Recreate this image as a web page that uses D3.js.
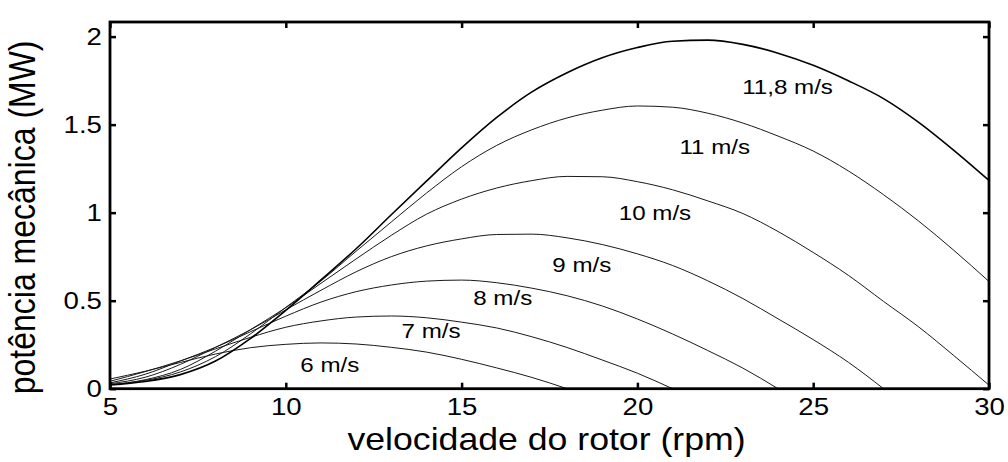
<!DOCTYPE html>
<html>
<head>
<meta charset="utf-8">
<script src="https://cdn.jsdelivr.net/npm/d3@7/dist/d3.min.js"></script>
<style>
  html, body { margin: 0; padding: 0; background: #fff; }
  svg { display: block; font-family: "Liberation Sans", Arial, sans-serif; }
</style>
</head>
<body>
<svg id="chart" width="1008" height="462"></svg>
<script>
// Rotor speed samples (rpm)
const rotorSpeed = [5, 6, 7, 8, 9, 10, 11, 12, 13, 14, 15, 16, 17, 18, 19, 20,
                    21, 22, 23, 24, 25, 26, 27, 28, 29, 30];

// Mechanical power (MW) for each wind speed, sampled at rotorSpeed
const power6 = [0.055, 0.099, 0.149, 0.197, 0.233, 0.252, 0.260, 0.254, 0.235,
                0.208, 0.167, 0.118, 0.064, 0.0];
const power7 = [0.042, 0.097, 0.158, 0.226, 0.292, 0.349, 0.385, 0.407, 0.413,
                0.403, 0.378, 0.345, 0.295, 0.234, 0.163, 0.088, 0.0];
const power8 = [0.033, 0.082, 0.157, 0.235, 0.324, 0.412, 0.492, 0.551, 0.589,
                0.611, 0.617, 0.602, 0.571, 0.528, 0.470, 0.396, 0.311, 0.217,
                0.117, 0.0];
const power9 = [0.028, 0.065, 0.138, 0.235, 0.335, 0.448, 0.559, 0.664, 0.750,
                0.811, 0.851, 0.876, 0.878, 0.857, 0.819, 0.766, 0.700, 0.613,
                0.512, 0.397, 0.279, 0.150, 0.0];
const power10 = [0.023, 0.051, 0.109, 0.213, 0.336, 0.460, 0.599, 0.737, 0.871,
                 0.991, 1.077, 1.140, 1.182, 1.206, 1.204, 1.176, 1.130, 1.067,
                 0.995, 0.893, 0.774, 0.644, 0.496, 0.351, 0.188, 0.02];
const power11 = [0.023, 0.047, 0.095, 0.182, 0.312, 0.462, 0.612, 0.781, 0.947,
                 1.111, 1.261, 1.382, 1.471, 1.538, 1.582, 1.606, 1.599, 1.565,
                 1.509, 1.435, 1.350, 1.237, 1.102, 0.952, 0.786, 0.609];
const power118 = [0.021, 0.041, 0.080, 0.157, 0.286, 0.445, 0.618, 0.795, 0.988,
                  1.179, 1.368, 1.541, 1.686, 1.795, 1.880, 1.938, 1.974, 1.980,
                  1.956, 1.906, 1.837, 1.749, 1.648, 1.513, 1.354, 1.183];

const windLabels = ["6 m/s", "7 m/s", "8 m/s", "9 m/s", "10 m/s", "11 m/s", "11,8 m/s"];
const seriesValues = [power6, power7, power8, power9, power10, power11, power118];

// Axis ticks
const xTicks = [5, 10, 15, 20, 25, 30];
const yTicks = [0, 0.5, 1, 1.5, 2];
const yTickLabels = ["0", "0.5", "1", "1.5", "2"];

// Where each curve's label sits, in data units [rpm, MW]
const labelAnchor = [[11.25, 0.135], [14.13, 0.328], [16.17, 0.515], [18.42, 0.703],
                     [20.5, 0.998], [22.2, 1.373], [24.27, 1.714]];

const svg = d3.select("#chart");
const plot = { left: 110, right: 989, top: 22, bottom: 388.7 };
const textStretch = 1.15;   // glyphs are drawn a little wider than tall

const x = d3.scaleLinear().domain([5, 30]).range([plot.left, plot.right]);
const y = d3.scaleLinear().domain([0, 2.083]).range([plot.bottom, plot.top]);

// Curves
const line = d3.line()
  .x(d => x(d[0]))
  .y(d => y(d[1]))
  .curve(d3.curveMonotoneX);

const g = svg.append("g");
seriesValues.forEach((vals, i) => {
  const pts = vals.map((v, k) => [rotorSpeed[k], v]);
  const top = i === seriesValues.length - 1;
  g.append("path")
    .datum(pts)
    .attr("fill", "none")
    .attr("stroke", top ? "#000" : "#1a1a1a")
    .attr("stroke-width", top ? 1.6 : 1.0)
    .attr("d", line);
});

// Curve labels
windLabels.forEach((t, i) => {
  svg.append("text")
    .attr("transform", `translate(${x(labelAnchor[i][0])},${y(labelAnchor[i][1])}) scale(${textStretch},1)`)
    .attr("text-anchor", "middle")
    .attr("dominant-baseline", "central")
    .attr("font-size", 21)
    .attr("fill", "#000")
    .text(t);
});

// Axes with inward ticks on all sides
const tickLen = 6;
const axisG = svg.append("g");
axisG.append("g")
  .attr("transform", `translate(0,${plot.bottom})`)
  .call(d3.axisBottom(x).tickValues(xTicks).tickSizeInner(-tickLen).tickSizeOuter(0).tickPadding(9).tickFormat(d3.format("d")));
axisG.append("g")
  .attr("transform", `translate(0,${plot.top})`)
  .call(d3.axisTop(x).tickValues(xTicks).tickSizeInner(-tickLen).tickSizeOuter(0).tickFormat(""));
axisG.append("g")
  .attr("transform", `translate(${plot.left},0)`)
  .call(d3.axisLeft(y).tickValues(yTicks).tickSizeInner(-tickLen).tickSizeOuter(0).tickPadding(7)
    .tickFormat((d, i) => yTickLabels[i]));
axisG.append("g")
  .attr("transform", `translate(${plot.right},0)`)
  .call(d3.axisRight(y).tickValues(yTicks).tickSizeInner(-tickLen).tickSizeOuter(0).tickFormat(""));

axisG.selectAll(".domain").remove();
axisG.selectAll(".tick line").attr("stroke", "#000").attr("stroke-width", 2.5);
axisG.selectAll(".tick text")
  .attr("font-size", 24)
  .attr("font-family", "'Liberation Sans', Arial, sans-serif")
  .attr("fill", "#000")
  .attr("transform", `scale(${textStretch},1)`);

// Frame
svg.append("rect")
  .attr("x", plot.left).attr("y", plot.top)
  .attr("width", plot.right - plot.left).attr("height", plot.bottom - plot.top)
  .attr("fill", "none").attr("stroke", "#000").attr("stroke-width", 2.8);

// Axis titles
svg.append("text")
  .attr("transform", `translate(${(plot.left + plot.right) / 2 - 3},450) scale(${textStretch},1)`)
  .attr("text-anchor", "middle")
  .attr("font-size", 31)
  .text("velocidade do rotor (rpm)");

svg.append("text")
  .attr("transform", `translate(35,${(plot.top + plot.bottom) / 2 + 12}) scale(${textStretch},1) rotate(-90)`)
  .attr("text-anchor", "middle")
  .attr("font-size", 32)
  .text("potência mecânica (MW)");
</script>
</body>
</html>
